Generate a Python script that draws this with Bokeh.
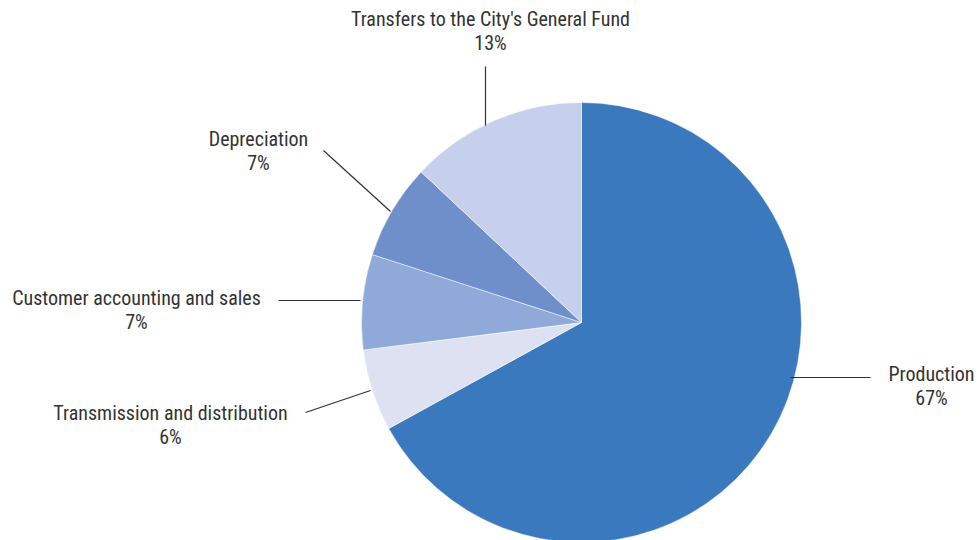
from math import pi
from bokeh.plotting import figure
from bokeh.models import ColumnDataSource, Range1d
from bokeh.core.properties import value
from bokeh.embed import file_html
from bokeh.resources import INLINE

categories = ["Production", "Transmission and distribution", "Customer accounting and sales",
              "Depreciation", "Transfers to the City's General Fund"]
shares = [67, 6, 7, 7, 13]
pct_labels = ["67%", "6%", "7%", "7%", "13%"]
colors = ["#3a79bd", "#dde1f2", "#8fa9d8", "#6e8fca", "#c6cfeb"]

W, H = 977, 540
def X(px): return px
def Y(py): return H - py

# layout (page pixel coords)
cx, cy, R = 581, 322, 220
label_pos = [(931, 373), (170, 412), (136, 297), (258, 138), (490, 18)]
leaders = [((790, 377), (870, 377)), ((370, 390), (305, 412)), ((360, 300), (278, 300)),
           ((390, 211), (323, 150)), ((485, 125), (485, 66))]

p = figure(width=W, height=H, output_backend="svg", toolbar_location=None,
           x_range=Range1d(0, W), y_range=Range1d(0, H), min_border=0)
p.axis.visible = False
p.grid.visible = False
p.outline_line_color = None

total = sum(shares)
starts, ends = [], []
a = pi / 2
for s in shares:
    e = a - s / total * 2 * pi
    starts.append(e)
    ends.append(a)
    a = e

src = ColumnDataSource(dict(start=starts, end=ends, color=colors))
p.wedge(x=X(cx), y=Y(cy), radius=R, start_angle="start", end_angle="end",
        fill_color="color", line_color="#ffffff", line_width=0.5, source=src)

p.segment(x0=[X(l[0][0]) for l in leaders], y0=[Y(l[0][1]) for l in leaders],
          x1=[X(l[1][0]) for l in leaders], y1=[Y(l[1][1]) for l in leaders],
          line_color="#303030", line_width=1.2)

font = value("'Liberation Sans Narrow', 'Roboto Condensed', 'DejaVu Sans Condensed', sans-serif")
p.text(x=[X(lp[0]) for lp in label_pos], y=[Y(lp[1]) for lp in label_pos], text=categories,
       text_align="center", text_baseline="middle", text_font=font,
       text_font_size="20px", text_color="#333333")
p.text(x=[X(lp[0]) for lp in label_pos], y=[Y(lp[1] + 24.5) for lp in label_pos], text=pct_labels,
       text_align="center", text_baseline="middle", text_font=font,
       text_font_size="20px", text_color="#333333")

open("out.html", "w").write(file_html(p, INLINE))
